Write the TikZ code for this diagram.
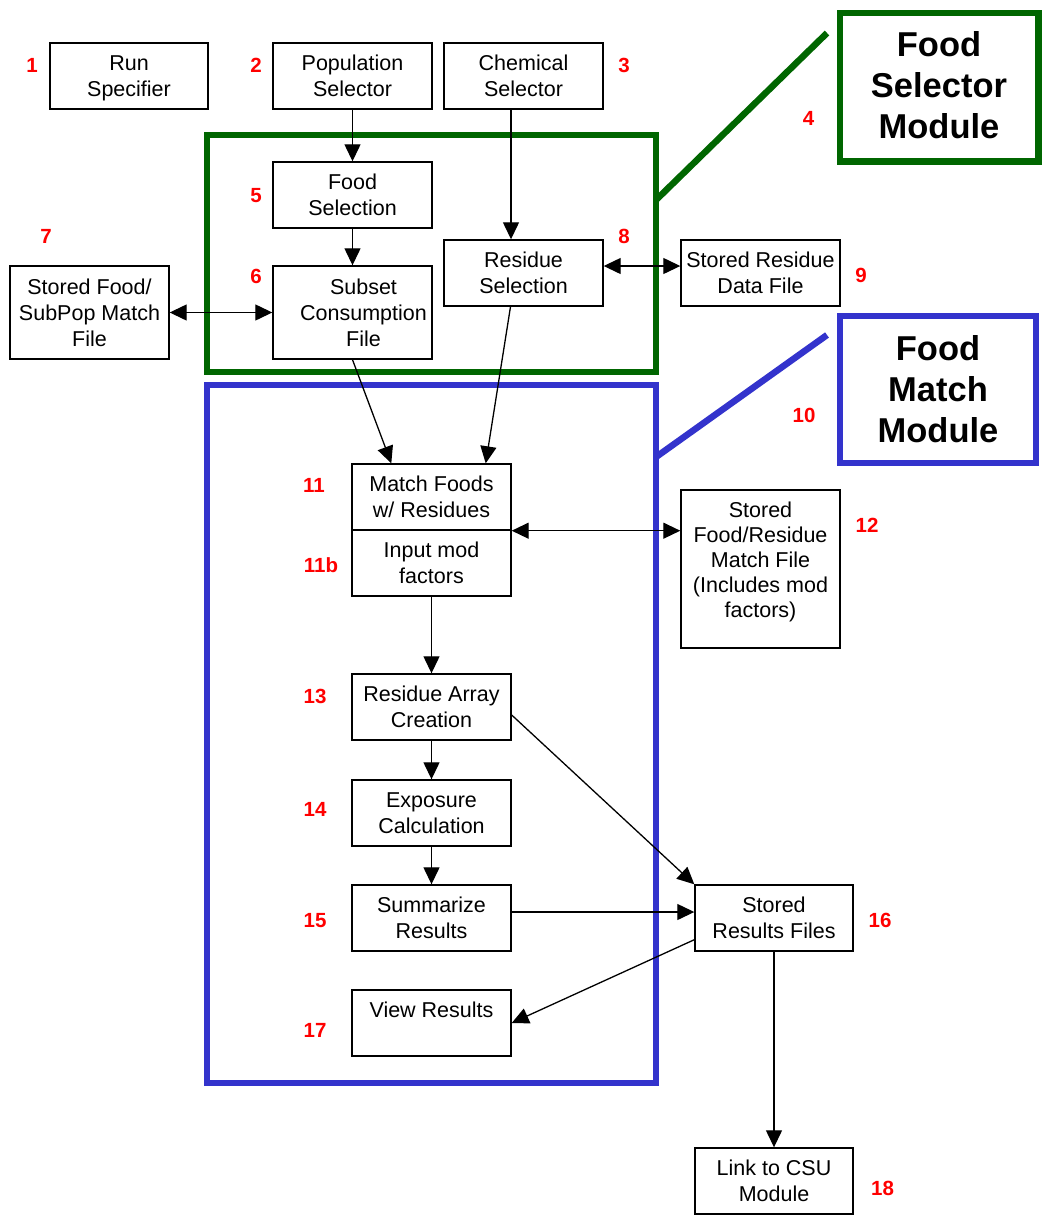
\documentclass[tikz,border=0pt]{standalone}
\usepackage{fontspec}
\setmainfont{Liberation Sans}
\usetikzlibrary{arrows.meta,calc}
\definecolor{modgreen}{RGB}{0,102,0}
\definecolor{modblue}{RGB}{51,51,204}
\definecolor{numred}{RGB}{255,0,0}

\begin{document}
\begin{tikzpicture}[x=1pt,y=-1pt,
  box/.style={draw,line width=1.4pt,inner sep=0pt,minimum width=159pt,minimum height=66pt,
    align=center,text depth=0pt,font=\fontsize{21.5}{26}\selectfont},
  num/.style={text=numred,font=\fontsize{20.5}{23}\selectfont\bfseries,inner sep=0pt},
  modbox/.style={draw,line width=6.5pt,inner sep=0pt,align=center,
    font=\fontsize{34.5}{41}\selectfont\bfseries},
  frame/.style={line width=6.5pt},
  flow/.style={line width=1.3pt,-{Triangle[length=17pt,width=16pt]}},
  twoway/.style={line width=1.3pt,{Triangle[length=17pt,width=16pt]}-{Triangle[length=17pt,width=16pt]}},
]
\useasboundingbox (0,0) rectangle (1044,1216);

% module frames and their call-out lines
\coordinate (gA) at (207,135); \coordinate (gB) at (656,372);
\coordinate (bA) at (207,385); \coordinate (bB) at (656,1083);
\draw[frame,modgreen] (gA) rectangle (gB);
\draw[frame,modblue] (bA) rectangle (bB);
\coordinate (gLineStart) at (656,200); \coordinate (gLineEnd) at (827,33);
\coordinate (bLineStart) at (656,457); \coordinate (bLineEnd) at (827,335);
\draw[frame,modgreen] (gLineStart) -- (gLineEnd);
\draw[frame,modblue] (bLineStart) -- (bLineEnd);

% module titles
\node[modbox,draw=modgreen,text depth=5pt,minimum width=198.5pt,minimum height=148.5pt] (fsm) at (939,87) {Food\\Selector\\Module};
\node[modbox,draw=modblue,text depth=1.5pt,minimum width=196pt,minimum height=147pt] (fmm) at (938,389.5) {Food\\Match\\Module};

% process boxes
\node[box,minimum width=158pt] (rs) at (129,76) {Run\\Specifier};
\node[box] (ps) at (352.5,76) {Population\\Selector};
\node[box] (cs) at (523.5,76) {Chemical\\Selector};
\node[box] (fs) at (352.5,195) {Food\\Selection};
\node[box] (ressel) at (523.5,273) {Residue\\Selection};
\node[box,minimum height=93pt] (sfm) at (89.5,312.5) {Stored Food/\\SubPop Match\\File};
\node[box,minimum height=93pt,
  label={[xshift=11pt,align=center,font=\fontsize{21.5}{26}\selectfont]center:Subset\\Consumption\\File}] (sc) at (352.5,312.5) {};
\node[box] (srd) at (760.5,273) {Stored Residue\\Data File};
\node[box] (mf) at (431.5,497) {Match Foods\\w/ Residues};
\node[box] (im) at (431.5,563) {Input mod\\factors};
\node[box,minimum height=158pt,
  label={[yshift=7pt,align=center,font=\fontsize{21.5}{25}\selectfont]center:Stored\\Food/Residue\\Match File\\(Includes mod\\factors)}] (sfr) at (760.5,569) {};
\node[box] (ra) at (431.5,707) {Residue Array\\Creation};
\node[box] (ec) at (431.5,813) {Exposure\\Calculation};
\node[box] (sum) at (431.5,918) {Summarize\\Results};
\node[box] (vr) at (431.5,1023) {View Results\\\mbox{}};
\node[box,minimum width=158pt] (srf) at (774,918) {Stored\\Results Files};
\node[box,minimum width=158pt] (csu) at (774,1181) {Link to CSU\\Module};

% step numbers
\node[num] (n1) at (32,65.5) {1};
\node[num] (n2) at (256,65.5) {2};
\node[num] (n3) at (624,65) {3};
\node[num] (n4) at (808.5,118.5) {4};
\node[num] (n5) at (256,196) {5};
\node[num] (n6) at (256,276) {6};
\node[num] (n7) at (46,236) {7};
\node[num] (n8) at (624,236) {8};
\node[num] (n9) at (861,275.5) {9};
\node[num] (n10) at (804,415) {10};
\node[num] (n11) at (314,485.5) {11};
\node[num] (n11b) at (321,565) {11b};
\node[num] (n12) at (867,525) {12};
\node[num] (n13) at (315,696) {13};
\node[num] (n14) at (315,809) {14};
\node[num] (n15) at (315,921) {15};
\node[num] (n16) at (880,920) {16};
\node[num] (n17) at (315,1030) {17};
\node[num] (n18) at (882.5,1188.5) {18};

% data flow
\draw[flow] (ps.south) -- (fs.north);
\draw[flow] (fs.south) -- (sc.north);
\draw[flow] ($(cs.south)+(-12.5,0)$) -- ($(ressel.north)+(-12.5,0)$);
\draw[twoway] (sfm.east) -- (sc.west);
\draw[twoway] ($(ressel.east)+(0,-7)$) -- ($(srd.west)+(0,-7)$);
\draw[flow] (sc.south) -- ($(mf.north west)+(40,0)$);
\draw[flow] ($(ressel.south)+(-13,0)$) -- ($(mf.north east)+(-26,0)$);
\draw[twoway] (mf.south east) -- (sfr.west |- mf.south east);
\draw[flow] (im.south) -- (ra.north);
\draw[flow] (ra.south) -- (ec.north);
\draw[flow] (ec.south) -- (sum.north);
\draw[flow] ($(ra.east)+(0,8)$) -- (srf.north west);
\draw[flow] ($(sum.east)+(0,-6)$) -- ($(srf.west)+(0,-6)$);
\draw[flow] ($(srf.south west)+(0,-12)$) -- (vr.east);
\draw[flow] (srf.south) -- (csu.north);
\end{tikzpicture}
\end{document}
